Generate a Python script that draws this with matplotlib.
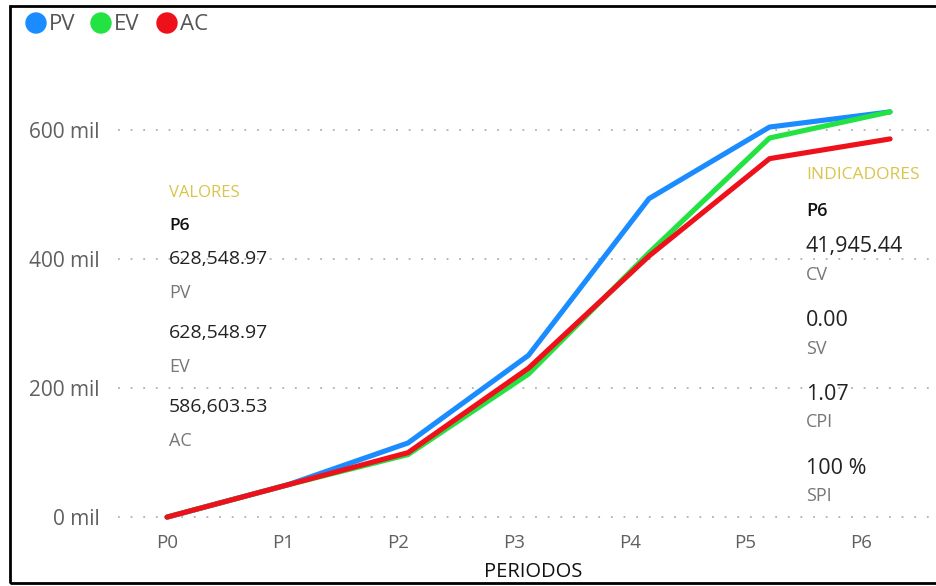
import matplotlib.pyplot as plt
from matplotlib.patches import Rectangle, Ellipse

plt.rcParams['font.family'] = ['Open Sans', 'DejaVu Sans']

# Curva S del proyecto (valores en miles)
periodos = ['P0', 'P1', 'P2', 'P3', 'P4', 'P5', 'P6']
pv = [0, 50, 115, 251, 494, 605, 628.549]
ev = [0, 50, 97, 222, 410, 588, 628.549]
ac = [0, 50, 100, 231, 405, 556, 586.604]

yticks = [0, 200, 400, 600]
ytick_labels = ['0 mil', '200 mil', '400 mil', '600 mil']

series = [('PV', pv, '#1A8CFF'), ('EV', ev, '#22E342'), ('AC', ac, '#EE111C')]
valores = [('628,548.97', 'PV'), ('628,548.97', 'EV'), ('586,603.53', 'AC')]
indicadores = [('41,945.44', 'CV'), ('0.00', 'SV'), ('1.07', 'CPI'), ('100 %', 'SPI')]

W, H = 937, 586
fig = plt.figure(figsize=(W / 100, H / 100), dpi=100)


def fx(px):
    return px / W


def fy(py):
    return 1 - py / H


# area de trazado en pixeles
ax = fig.add_axes([fx(118), fy(530), fx(935) - fx(118), fy(60) - fy(530)])
x = list(range(len(periodos)))
for z, (nombre, vals, col) in enumerate(series):
    ax.plot(x, vals, color=col, lw=3.7, solid_capstyle='round', zorder=3 + z)

ax.set_xlim(-0.407, 6.373)
ax.set_ylim(-20, 709)
# las etiquetas de categoria van un poco mas juntas que los puntos
ax.set_xticks([i * 0.96 for i in x])
ax.set_xticklabels(periodos, fontsize=13.5, color='#606060')
ax.set_yticks(yticks)
ax.set_yticklabels(ytick_labels, fontsize=15, color='#606060')
ax.tick_params(length=0)
ax.tick_params(axis='x', pad=3)
ax.tick_params(axis='y', pad=13)
ax.grid(axis='y', color='#b0b0b0', linestyle=(0, (1, 6)), linewidth=1.3)
for s in ax.spines.values():
    s.set_visible(False)
fig.text(fx(533), fy(572), 'PERIODOS', fontsize=14.5, color='#111111',
         ha='center', va='center')

# leyenda
for (nombre, vals, col), cx in zip(series, [36, 101, 167]):
    fig.add_artist(Ellipse((fx(cx), fy(23)), fx(20), 20 / H, color=col,
                           transform=fig.transFigure))
    fig.text(fx(cx + 13), fy(24), nombre, color='#555555', fontsize=16, va='center')

# tarjeta de valores
fig.text(fx(169), fy(193), 'VALORES', color='#D8C54A', fontsize=12, va='center')
fig.text(fx(169), fy(226), 'P6', color='#111111', fontsize=12.5, weight='semibold',
         va='center')
for i, (num, lab) in enumerate(valores):
    y0 = 259 + i * 74
    fig.text(fx(169), fy(y0), num, color='#222222', fontsize=14, va='center')
    fig.text(fx(169), fy(y0 + 34), lab, color='#777777', fontsize=13, va='center')

# tarjeta de indicadores
fig.text(fx(806), fy(175), 'INDICADORES', color='#D8C54A', fontsize=12.5, va='center')
fig.text(fx(806), fy(211), 'P6', color='#111111', fontsize=13, weight='semibold',
         va='center')
for i, (num, lab) in enumerate(indicadores):
    y0 = 247 + i * 73.7
    fig.text(fx(806), fy(y0), num, color='#222222', fontsize=15.5, va='center')
    fig.text(fx(806), fy(y0 + 28), lab, color='#777777', fontsize=13, va='center')

# marco
fig.add_artist(Rectangle((fx(10), fy(583)), fx(945) - fx(10), fy(6) - fy(583),
                         transform=fig.transFigure, fill=False,
                         edgecolor='black', lw=2))

fig.savefig('out.png', dpi=100)
